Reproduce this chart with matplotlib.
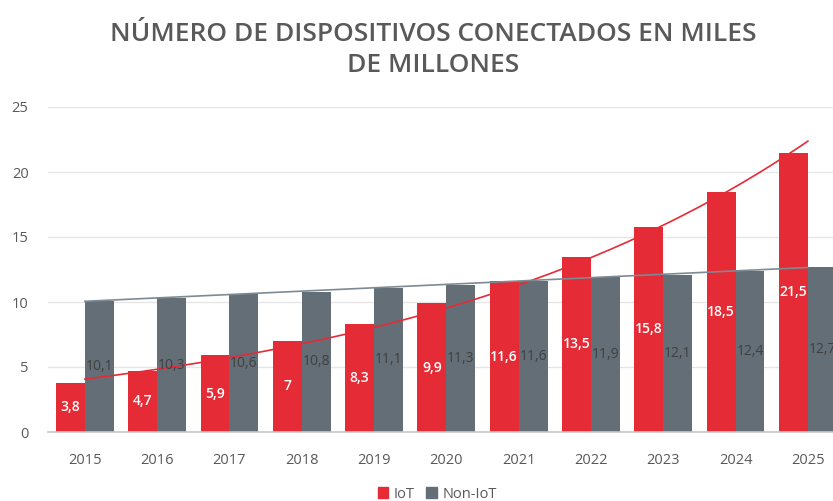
import numpy as np
import matplotlib
matplotlib.use('Agg')
import matplotlib.pyplot as plt
from matplotlib.patches import Patch

years = ['2015', '2016', '2017', '2018', '2019', '2020', '2021', '2022', '2023', '2024', '2025']
iot = [3.8, 4.7, 5.9, 7, 8.3, 9.9, 11.6, 13.5, 15.8, 18.5, 21.5]
non_iot = [10.1, 10.3, 10.6, 10.8, 11.1, 11.3, 11.6, 11.9, 12.1, 12.4, 12.7]

red = '#e52b35'
gray = '#636e77'
txt = '#595959'

plt.rcParams['font.family'] = ['Open Sans', 'DejaVu Sans']

fig = plt.figure(figsize=(8.33, 5.01), dpi=100)
ax = fig.add_axes([48 / 833, 69 / 501, 796 / 833, 325 / 501])

x = np.arange(len(years))
w = 0.4
b1 = ax.bar(x - w / 2, iot, w, color=red, zorder=2)
b2 = ax.bar(x + w / 2, non_iot, w, color=gray, zorder=2)

def fmt(v):
    return ('%g' % v).replace('.', ',')

for rect, v in zip(b1, iot):
    ax.text(rect.get_x() + rect.get_width() / 2, v / 2, fmt(v), ha='center', va='center',
            color='white', fontsize=10, fontweight='semibold', zorder=4)
for rect, v in zip(b2, non_iot):
    ax.text(rect.get_x() + rect.get_width() / 2, v / 2, fmt(v), ha='center', va='center',
            color='#404040', fontsize=10, zorder=4)

# trend lines: exponential for IoT, linear for Non-IoT
xs = np.linspace(0, 10, 200)
k, c = np.polyfit(x, np.log(iot), 1)
ax.plot(xs, np.exp(c + k * xs), color=red, lw=1.2, zorder=3)
m, n = np.polyfit(x, non_iot, 1)
ax.plot(xs, m * xs + n, color='#7d8a93', lw=1.2, zorder=3)

ax.set_xlim(-0.51, 10.5)
ax.set_ylim(0, 25)
ax.set_yticks([0, 5, 10, 15, 20, 25])
ax.set_xticks(x)
ax.set_xticklabels(years)
ax.tick_params(axis='both', length=0, colors=txt, labelsize=10.5)
ax.tick_params(axis='x', pad=15)
ax.tick_params(axis='y', pad=14)
ax.grid(axis='y', color='#e6e6e6', lw=1, zorder=0)
for s in ['top', 'right', 'left']:
    ax.spines[s].set_visible(False)
ax.spines['bottom'].set_color('#c8c8c8')
ax.spines['bottom'].set_linewidth(1.2)

fig.text(0.52, 1 - 50 / 501, 'NÚMERO DE DISPOSITIVOS CONECTADOS EN MILES\nDE MILLONES',
         ha='center', va='center', fontsize=19, fontweight='semibold', color=txt,
         linespacing=1.3)

handles = [Patch(color=red, label='IoT'), Patch(color=gray, label='Non-IoT')]
fig.legend(handles=handles, loc='center', bbox_to_anchor=(0.525, 7 / 501), ncol=2,
           frameon=False, fontsize=10.5, handlelength=0.7, handleheight=0.7,
           handletextpad=0.4, columnspacing=0.8, labelcolor=txt)

fig.savefig('out.png', dpi=100)
